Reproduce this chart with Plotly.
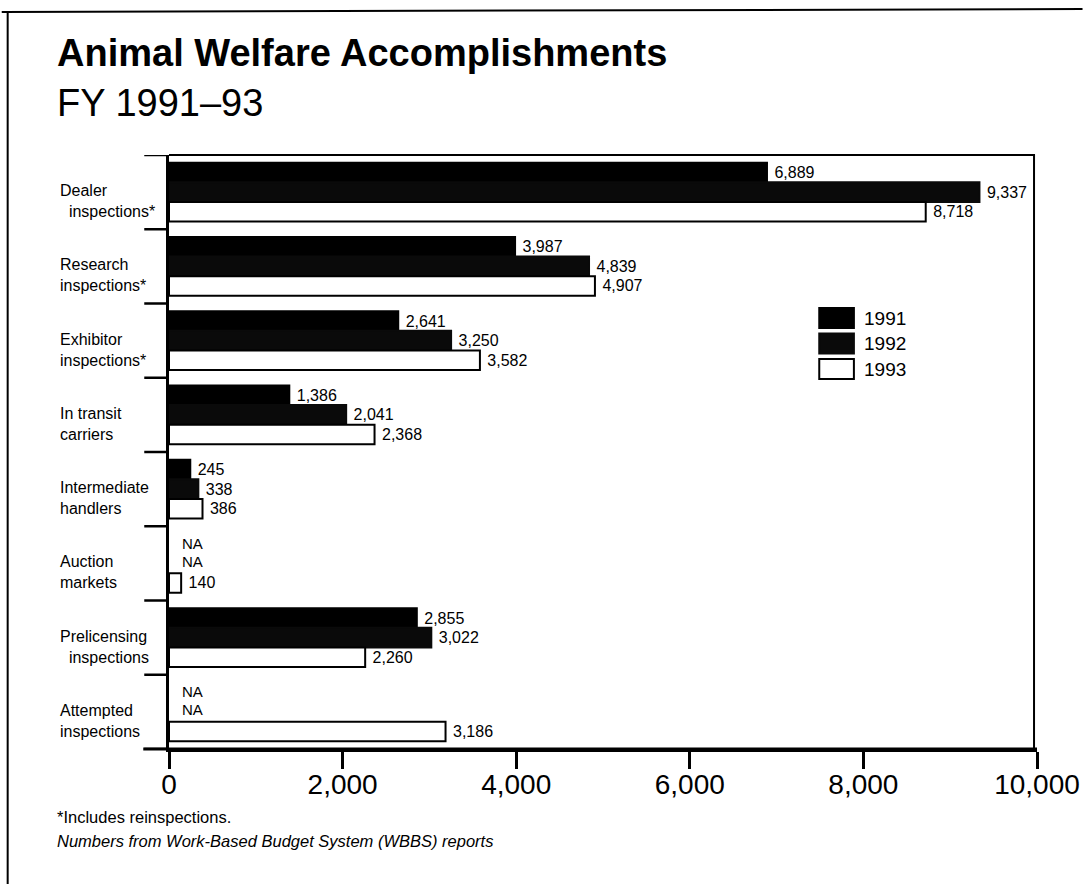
import plotly.graph_objects as go

categories = ["Dealer inspections*", "Research inspections*", "Exhibitor inspections*",
              "In transit carriers", "Intermediate handlers", "Auction markets",
              "Prelicensing inspections", "Attempted inspections"]
cat_labels = ["Dealer<br>&nbsp;&nbsp;inspections*", "Research<br>inspections*", "Exhibitor<br>inspections*",
              "In transit<br>carriers", "Intermediate<br>handlers", "Auction<br>markets",
              "Prelicensing<br>&nbsp;&nbsp;inspections", "Attempted<br>inspections"]
years = ["1991", "1992", "1993"]
v1991 = [6889, 3987, 2641, 1386, 245, None, 2855, None]
v1992 = [9337, 4839, 3250, 2041, 338, None, 3022, None]
v1993 = [8718, 4907, 3582, 2368, 386, 140, 2260, 3186]
x_ticks = [0, 2000, 4000, 6000, 8000, 10000]

W, H = 1092, 884
L, R, T, B = 169, 1046, 155, 749
def px(xp):
    return (xp - L) / (R - L)
def py(yp):
    return 1 - (yp - T) / (B - T)

FONT = "Liberation Sans, Arial, Helvetica, sans-serif"
ypos = list(range(len(categories)))

def fmt(v):
    return "" if v is None else "\u00a0" + f"{v:,}"

fig = go.Figure()
series = [(v1991, "#000000", "#000000"), (v1992, "#0a0a0a", "#0a0a0a"), (v1993, "#ffffff", "#000000")]
for name, (vals, fill, line) in zip(years, series):
    fig.add_trace(go.Bar(
        y=ypos, x=vals, orientation="h", name=name,
        marker=dict(color=fill, line=dict(color=line, width=2)),
        text=[fmt(v) for v in vals], textposition="outside",
        textfont=dict(size=16, color="#000", family=FONT),
        constraintext="none", cliponaxis=False, showlegend=False,
    ))

shapes = []
annotations = []
# category separators (left ticks)
for k in range(len(categories) + 1):
    shapes.append(dict(type="line", xref="paper", yref="y", x0=px(144), x1=0,
                       y0=k - 0.5, y1=k - 0.5, line=dict(color="#000", width=2.5)))
# top and right frame lines
shapes.append(dict(type="line", xref="paper", yref="paper", x0=0, x1=px(1044), y0=1, y1=1,
                   line=dict(color="#000", width=2)))
shapes.append(dict(type="line", xref="paper", yref="paper", x0=px(1043), x1=px(1043), y0=0, y1=1,
                   line=dict(color="#000", width=2)))
# NA labels
for i, (a, b) in enumerate(zip(v1991, v1992)):
    if a is None:
        annotations.append(dict(x=px(180), y=i - 0.27, xref="paper", yref="y", text="NA",
                                showarrow=False, xanchor="left", yanchor="middle",
                                font=dict(size=15, family=FONT, color="#000")))
    if b is None:
        annotations.append(dict(x=px(180), y=i - 0.03, xref="paper", yref="y", text="NA",
                                showarrow=False, xanchor="left", yanchor="middle",
                                font=dict(size=15, family=FONT, color="#000")))
# category labels
for i, lab in enumerate(cat_labels):
    annotations.append(dict(x=px(57), y=i + 0.12, xref="paper", yref="y", text=lab,
                            showarrow=False, xanchor="left", yanchor="middle", align="left",
                            font=dict(size=16, family=FONT, color="#000")))
# legend (custom swatches)
leg = [("1991", "#000", "#000", 318), ("1992", "#0a0a0a", "#0a0a0a", 343.5), ("1993", "#fff", "#000", 369)]
for name, fill, line, yc in leg:
    shapes.append(dict(type="rect", xref="paper", yref="paper", x0=px(826), x1=px(861),
                       y0=py(yc - 10), y1=py(yc + 10), fillcolor=fill, line=dict(color=line, width=2)))
    annotations.append(dict(x=px(869), y=py(yc), xref="paper", yref="paper", text=name,
                            showarrow=False, xanchor="left", yanchor="middle",
                            font=dict(size=19, family=FONT, color="#000")))
# axis line extension
shapes.append(dict(type="line", xref="paper", yref="paper", x0=px(143), x1=1, y0=0, y1=0,
                   line=dict(color="#000", width=3)))
# page border
shapes.append(dict(type="line", xref="paper", yref="paper", x0=px(0), x1=px(1092), y0=py(12), y1=py(9),
                   line=dict(color="#000", width=2)))
shapes.append(dict(type="line", xref="paper", yref="paper", x0=px(6), x1=px(6), y0=py(12), y1=py(884),
                   line=dict(color="#000", width=2)))
# titles and notes
annotations += [
    dict(x=px(54), y=py(53), xref="paper", yref="paper", text="<b>Animal Welfare Accomplishments</b>",
         showarrow=False, xanchor="left", yanchor="middle", font=dict(size=38, family=FONT, color="#000")),
    dict(x=px(54), y=py(103), xref="paper", yref="paper", text="FY 1991\u201393",
         showarrow=False, xanchor="left", yanchor="middle", font=dict(size=38, family=FONT, color="#000")),
    dict(x=px(54), y=py(817), xref="paper", yref="paper", text="*Includes reinspections.",
         showarrow=False, xanchor="left", yanchor="middle", font=dict(size=16.5, family=FONT, color="#000")),
    dict(x=px(54), y=py(841), xref="paper", yref="paper", text="<i>Numbers from Work-Based Budget System (WBBS) reports</i>",
         showarrow=False, xanchor="left", yanchor="middle", font=dict(size=16.5, family=FONT, color="#000")),
]

fig.update_layout(
    width=W, height=H, margin=dict(l=L, r=W - R, t=T, b=H - B),
    paper_bgcolor="#fff", plot_bgcolor="#fff",
    barmode="group", bargap=0.21, bargroupgap=0.0,
    showlegend=False, shapes=shapes, annotations=annotations,
    xaxis=dict(range=[0, 10000], tickvals=x_ticks, tickformat=",", ticks="outside", ticklen=17,
               tickwidth=2.5, tickcolor="#000", showgrid=False, zeroline=False,
               showline=True, linecolor="#000", linewidth=3, ticklabelstandoff=-9,
               tickfont=dict(size=28, family=FONT, color="#000")),
    yaxis=dict(range=[len(categories) - 0.5, -0.5], showticklabels=False, ticks="",
               showgrid=False, zeroline=False, showline=True, linecolor="#000",
               linewidth=3),
)
fig.write_html("out.html")
